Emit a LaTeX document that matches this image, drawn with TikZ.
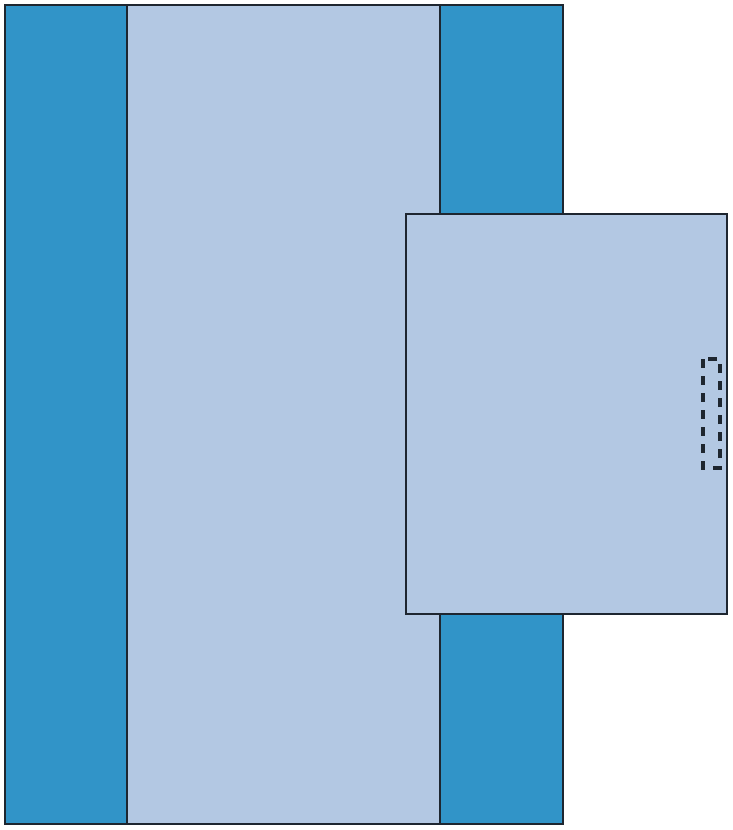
\documentclass[tikz,border=0pt]{standalone}
\definecolor{darkband}{HTML}{3194C8}
\definecolor{lightband}{HTML}{B3C8E3}
\definecolor{edge}{HTML}{1E2630}
\begin{document}
\begin{tikzpicture}[x=1pt,y=-1pt,
  panel/.style={draw=edge,line width=2.5pt},
  pocket/.style={draw=edge,line width=3.2pt,dash pattern=on 9pt off 8pt}]
\useasboundingbox (0,0) rectangle (732,830);
\fill[darkband] (5,5) rectangle (563,824);
\filldraw[panel,fill=lightband] (127,5) rectangle (440,824);
\draw[panel] (5,5) rectangle (563,824);
\filldraw[panel,fill=lightband] (406,214) rectangle (727,614);
\draw[pocket] (703,359) rectangle (720,468);
\end{tikzpicture}
\end{document}
